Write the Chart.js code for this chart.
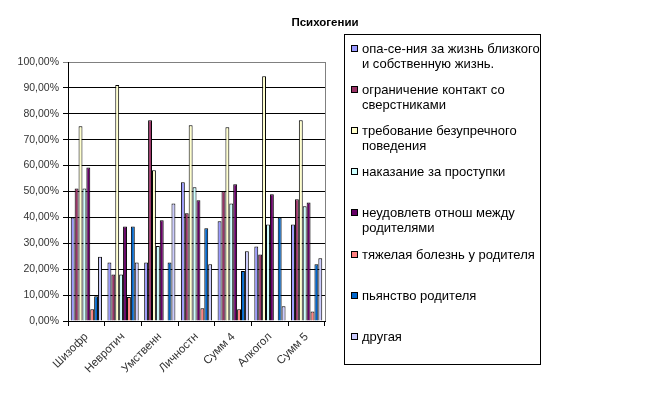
<!DOCTYPE html>
<html>
<head>
<meta charset="utf-8">
<script src="https://cdn.jsdelivr.net/npm/chart.js@4"></script>
<style>
  body { margin: 0; background: #fff; }
  #wrap { position: relative; width: 650px; height: 396px; font-family: 'Liberation Sans', Arial, sans-serif; }
  #title { position: absolute; left: 0; width: 650px; top: 16px; text-align: center; font-size: 11.5px; font-weight: bold; color: #000; }
  #legend { position: absolute; left: 344px; top: 34px; width: 195px; height: 329px; border: 1px solid #000; box-sizing: content-box; }
  .lg-item { position: absolute; left: 6px; white-space: nowrap; font-size: 13px; line-height: 15px; color: #000; }
  .lg-box { position: absolute; left: 0; top: 4px; width: 5px; height: 5px; border: 1px solid #000; }
  .lg-text { margin-left: 11px; }
</style>
</head>
<body>
<div id="wrap">
  <canvas id="chart" width="650" height="396"></canvas>
  <div id="title">Психогении</div>
  <div id="legend"></div>
</div>
<script>
// -- data ----------------------------------------------------------------

const categories = ['Шизофр', 'Невротич', 'Умственн', 'Личностн', 'Сумм 4', 'Алкогол', 'Сумм 5'];

const seriesNames = [
  ['опа-се-ния за жизнь близкого', 'и собственную жизнь.'],
  ['ограничение контакт со', 'сверстниками'],
  ['требование безупречного', 'поведения'],
  ['наказание за проступки'],
  ['неудовлетв отнош между', 'родителями'],
  ['тяжелая болезнь у родителя'],
  ['пьянство родителя'],
  ['другая'],
];

const fearLife     = [40.0, 22.6, 22.6, 53.6, 38.5, 28.8, 37.3];
const peerLimits   = [51.2, 18.0, 77.5, 41.6, 50.1, 25.7, 47.0];
const perfection   = [75.2, 91.1, 58.2, 75.6, 74.8, 94.5, 77.5];
const punishment   = [51.2, 18.0, 29.0, 51.6, 45.4, 37.3, 44.3];
const parentsRel   = [59.3, 36.5, 38.9, 46.6, 52.8, 48.9, 45.8];
const parentIll    = [4.5, 9.3, 0, 4.9, 4.5, 0, 3.7];
const parentDrink  = [9.6, 36.5, 22.6, 35.8, 19.3, 40.0, 21.9];
const other        = [24.8, 22.6, 45.4, 21.9, 26.9, 5.7, 24.2];

const seriesValues = [fearLife, peerLimits, perfection, punishment, parentsRel, parentIll, parentDrink, other];
const seriesColors = ['#9999FF', '#993366', '#FFFFCC', '#CCFFFF', '#660066', '#FF8080', '#0066CC', '#CCCCFF'];

// -- chart ---------------------------------------------------------------

const FONT = "'Liberation Sans', Arial, sans-serif";

const plotBorder = {
  id: 'plotBorder',
  afterDraw(chart) {
    const a = chart.chartArea, ctx = chart.ctx;
    ctx.save();
    ctx.strokeStyle = '#808080';
    ctx.lineWidth = 1;
    ctx.beginPath();
    ctx.moveTo(Math.round(a.right) + 0.5, a.top);
    ctx.lineTo(Math.round(a.right) + 0.5, a.bottom);
    ctx.stroke();
    ctx.restore();
  },
};

new Chart(document.getElementById('chart'), {
  type: 'bar',
  data: {
    labels: categories,
    datasets: seriesValues.map((vals, i) => ({
      label: seriesNames[i].join(' '),
      data: vals,
      backgroundColor: seriesColors[i],
      borderColor: '#000',
      borderWidth: 1,
      categoryPercentage: 0.85,
      barPercentage: 1,
    })),
  },
  options: {
    responsive: false,
    animation: false,
    layout: { padding: { left: 0, right: 325, top: 62, bottom: 0 } },
    plugins: {
      legend: { display: false },
      title: { display: false },
      tooltip: { enabled: false },
    },
    scales: {
      x: {
        afterFit(scale) { scale.height = 75; },
        grid: { drawOnChartArea: false, drawTicks: true, tickLength: 5, color: '#000', offset: true },
        border: { color: '#000' },
        ticks: {
          minRotation: 45,
          maxRotation: 45,
          padding: 4,
          color: '#333',
          font: { family: FONT, size: 11.5 },
        },
      },
      y: {
        min: 0,
        max: 100,
        afterFit(scale) { scale.width = 68; },
        grid: {
          color: ctx => (ctx.tick && ctx.tick.value === 100 ? '#808080' : '#000'),
          tickLength: 5,
        },
        border: { color: '#000' },
        ticks: {
          stepSize: 10,
          padding: 4,
          color: '#333',
          font: { family: FONT, size: 10.5 },
          callback: v => v.toFixed(2).replace('.', ',') + '%',
        },
      },
    },
  },
  plugins: [plotBorder],
});

// -- legend (html, wrapped like the original) ----------------------------

const legend = document.getElementById('legend');
seriesNames.forEach((lines, i) => {
  const item = document.createElement('div');
  item.className = 'lg-item';
  item.style.top = (6 + 41.1 * i) + 'px';
  item.innerHTML = '<span class="lg-box" style="background:' + seriesColors[i] + '"></span>' +
    '<div class="lg-text">' + lines.join('<br>') + '</div>';
  legend.appendChild(item);
});
</script>
</body>
</html>
